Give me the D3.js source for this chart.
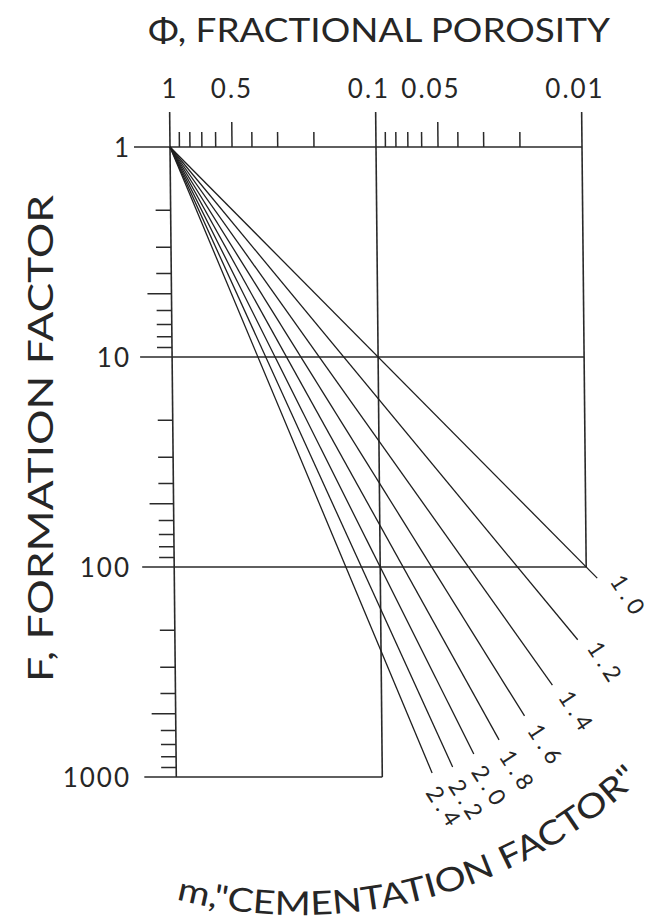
<!DOCTYPE html>
<html>
<head>
<meta charset="utf-8">
<script src="https://cdn.jsdelivr.net/npm/d3@7/dist/d3.min.js"></script>
<style>
  html, body { margin: 0; padding: 0; background: #fff; }
  svg { display: block; }
  text { font-family: Lato, "DejaVu Sans", sans-serif; font-weight: 400; fill: #262626; }
</style>
</head>
<body>
<svg id="chart" width="652" height="918"></svg>
<script>
// Porosity axis (top) and formation-factor axis (left), both logarithmic
const phiLabelValues = [1, 0.5, 0.1, 0.05, 0.01];
const phiTickLabels  = ["1", "0.5", "0.1", "0.05", "0.01"];
const phiMid         = [0.5, 0.05];
const phiMinor       = [0.9, 0.8, 0.7, 0.6, 0.4, 0.3, 0.2, 0.09, 0.08, 0.07, 0.06, 0.04, 0.03, 0.02];

const fLabelValues = [1, 10, 100, 1000];
const fTickLabels  = ["1", "10", "100", "1000"];
const fMid         = [5, 50, 500];
const fMinor       = [2, 3, 4, 6, 7, 8, 9, 20, 30, 40, 60, 70, 80, 90, 200, 300, 400, 600, 700, 800, 900];

// Archie relation F = phi^-m, one line per cementation exponent
const mValues = [1.0, 1.2, 1.4, 1.6, 1.8, 2.0, 2.2, 2.4];
const mLabels = ["1.0", "1.2", "1.4", "1.6", "1.8", "2.0", "2.2", "2.4"];
const endF    = [113, 222, 365, 512, 666, 777, 896, 957];   // formation factor where each line stops

const svg = d3.select("#chart");
svg.append("rect").attr("width", 652).attr("height", 918).attr("fill", "#fff");

const x = d3.scaleLog().domain([1, 0.01]).range([170, 582]);
const y = d3.scaleLog().domain([1, 1000]).range([147, 777]);

// the printed frame leans very slightly to the right going down
const k = 0.01;
const y0 = y(1);
const slant = (px, py) => [px + k * (py - y0), py];

const plot = svg.append("g")
  .attr("transform", `matrix(1,0,${k},1,${-k * y0},0)`);

const axisColor = "#2a2a2a";
const gridTop = 112;
const majorLeft = 138;

// grid / major lines
const vLines = [
  { v: 1,    y2: y(1000) },
  { v: 0.1,  y2: y(1000) },
  { v: 0.01, y2: y(100) }
];
plot.selectAll("line.v").data(vLines).join("line")
  .attr("x1", d => x(d.v)).attr("x2", d => x(d.v))
  .attr("y1", gridTop).attr("y2", d => d.y2)
  .attr("stroke", axisColor).attr("stroke-width", 1.6);

const hLines = [
  { v: 1,    x2: x(0.01), x1: 134 },
  { v: 10,   x2: x(0.01), x1: majorLeft },
  { v: 100,  x2: x(0.01), x1: majorLeft },
  { v: 1000, x2: x(0.1),  x1: majorLeft }
];
plot.selectAll("line.h").data(hLines).join("line")
  .attr("x1", d => d.x1).attr("x2", d => d.x2)
  .attr("y1", d => y(d.v)).attr("y2", d => y(d.v))
  .attr("stroke", axisColor).attr("stroke-width", 1.6);

// top ticks
const topTicks = phiMinor.map(v => ({ v, len: 15 })).concat(phiMid.map(v => ({ v, len: 25 })));
plot.selectAll("line.tt").data(topTicks).join("line")
  .attr("x1", d => x(d.v)).attr("x2", d => x(d.v))
  .attr("y1", y0).attr("y2", d => y0 - d.len)
  .attr("stroke", axisColor).attr("stroke-width", 1.5);

// left ticks
const leftTicks = fMinor.map(v => ({ v, len: 15 })).concat(fMid.map(v => ({ v, len: 24 })));
plot.selectAll("line.lt").data(leftTicks).join("line")
  .attr("x1", x(1)).attr("x2", d => x(1) - d.len)
  .attr("y1", d => y(d.v)).attr("y2", d => y(d.v))
  .attr("stroke", axisColor).attr("stroke-width", 1.5);

// cementation lines
const line = d3.line().x(d => x(d[0])).y(d => y(d[1]));
const series = mValues.map((m, i) => ({
  m, label: mLabels[i],
  pts: [[1, 1], [Math.pow(endF[i], -1 / m), endF[i]]]
}));
plot.selectAll("path.m").data(series).join("path")
  .attr("d", d => line(d.pts))
  .attr("fill", "none").attr("stroke", "#1e1e1e").attr("stroke-width", 1.3);

// line labels, pushed radially outward from the fan's end
const cx = 293, cy = 410, push = 37;
svg.selectAll("text.m").data(series).join("text")
  .each(function (d) {
    const e = slant(x(d.pts[1][0]), y(d.pts[1][1]));
    const dx = e[0] - cx, dy = e[1] - cy, r = Math.hypot(dx, dy);
    const lx = e[0] + push * dx / r, ly = e[1] + push * dy / r;
    d3.select(this)
      .attr("transform", `translate(${lx},${ly}) rotate(57)`)
      .attr("text-anchor", "middle")
      .attr("dominant-baseline", "central")
      .attr("font-size", 23)
      .attr("letter-spacing", 5)
      .text(d.label);
  });

// tick labels
svg.selectAll("text.xl").data(phiLabelValues).join("text")
  .attr("x", v => x(v) + (v <= 0.1 ? -7 : 0))
  .attr("y", 98)
  .attr("text-anchor", "middle")
  .attr("font-size", 26)
  .attr("letter-spacing", 2)
  .text((v, i) => phiTickLabels[i]);

svg.selectAll("text.yl").data(fLabelValues).join("text")
  .attr("x", 131)
  .attr("y", v => y(v))
  .attr("text-anchor", "end")
  .attr("dominant-baseline", "central")
  .attr("font-size", 26)
  .attr("letter-spacing", 2)
  .text((v, i) => fTickLabels[i]);

// axis titles
svg.append("text")
  .attr("x", 148).attr("y", 42)
  .attr("font-size", 33)
  .attr("textLength", 462).attr("lengthAdjust", "spacingAndGlyphs")
  .text("Φ, FRACTIONAL POROSITY");

svg.append("text")
  .attr("transform", "translate(53,682) rotate(-90)")
  .attr("font-size", 34)
  .attr("textLength", 487).attr("lengthAdjust", "spacingAndGlyphs")
  .text("F, FORMATION FACTOR");

// curved title along the fan
const R = 495, ax = 300, ay = 420;
const a0 = 104.5 * Math.PI / 180, a1 = 45 * Math.PI / 180;
const p0 = [ax + R * Math.cos(a0), ay + R * Math.sin(a0)];
const p1 = [ax + R * Math.cos(a1), ay + R * Math.sin(a1)];
svg.append("defs").append("path")
  .attr("id", "mArc")
  .attr("d", `M${p0[0]},${p0[1]} A${R},${R} 0 0 0 ${p1[0]},${p1[1]}`);
svg.append("text")
  .attr("font-size", 33)
  .append("textPath")
  .attr("href", "#mArc")
  .attr("textLength", 500).attr("lengthAdjust", "spacingAndGlyphs")
  .text("m,\"CEMENTATION FACTOR\"");
</script>
</body>
</html>
